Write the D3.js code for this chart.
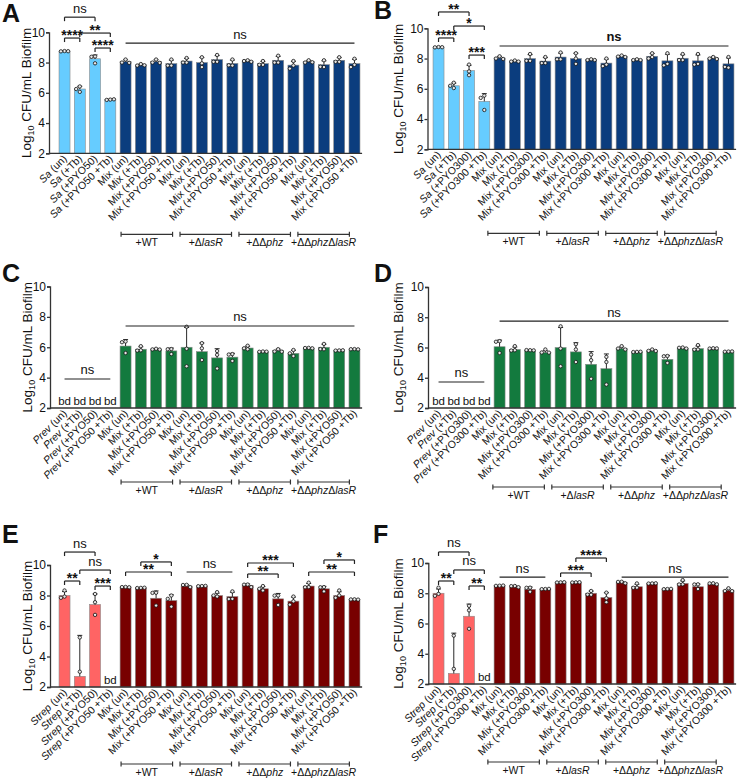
<!DOCTYPE html>
<html><head><meta charset="utf-8">
<script src="https://cdn.jsdelivr.net/npm/d3@7"></script>
<style>
body{margin:0;background:#fff}
svg{display:block}
text{font-family:"Liberation Sans",Arial,Helvetica,sans-serif;fill:#111}
</style>
</head><body>
<svg id="chart" width="742" height="778"></svg>
<script>
// ---------------- DATA ----------------
const condPYO50 = ["(un)", "(+Tb)", "(+PYO50)", "(+PYO50 +Tb)"];
const condPYO300 = ["(un)", "(+Tb)", "(+PYO300)", "(+PYO300 +Tb)"];
const strainGroups = ["+WT", "+ΔlasR", "+ΔΔphz", "+ΔΔphzΔlasR"];
const yTicks = [2, 4, 6, 8, 10];

const catsA = [...condPYO50.map(c => "Sa " + c), ...strainGroups.flatMap(() => condPYO50.map(c => "Mix " + c))];
const catsB = [...condPYO300.map(c => "Sa " + c), ...strainGroups.flatMap(() => condPYO300.map(c => "Mix " + c))];
const catsC = [...condPYO50.map(c => "Prev " + c), ...strainGroups.flatMap(() => condPYO50.map(c => "Mix " + c))];
const catsD = [...condPYO300.map(c => "Prev " + c), ...strainGroups.flatMap(() => condPYO300.map(c => "Mix " + c))];
const catsE = [...condPYO50.map(c => "Strep " + c), ...strainGroups.flatMap(() => condPYO50.map(c => "Mix " + c))];
const catsF = [...condPYO300.map(c => "Strep " + c), ...strainGroups.flatMap(() => condPYO300.map(c => "Mix " + c))];

// bar means (null = below detection, "bd")
const meansA = [8.75, 6.25, 8.25, 5.55, 8.06, 7.84, 8.06, 7.93, 8.1, 8.0, 8.2, 7.94, 8.1, 7.93, 8.15, 7.83, 8.06, 7.86, 8.15, 7.93];
const meansB = [8.75, 6.2, 7.2, 5.17, 8.04, 7.83, 8.0, 7.83, 8.1, 8.0, 7.92, 7.7, 8.15, 7.92, 8.15, 7.85, 8.02, 7.85, 8.03, 7.65];
const meansC = [null, null, null, null, 6.08, 5.87, 5.87, 5.76, 6.0, 5.71, 5.3, 5.35, 5.95, 5.7, 5.78, 5.6, 5.93, 6.0, 5.78, 5.87];
const meansD = [null, null, null, null, 6.05, 5.87, 5.8, 5.67, 6.0, 5.71, 4.89, 4.6, 5.93, 5.7, 5.78, 5.22, 5.93, 5.93, 5.87, 5.7];
const meansE = [8.0, 2.7, 7.41, null, 8.55, 8.5, 7.82, 7.67, 8.62, 8.62, 8.0, 7.93, 8.66, 8.44, 7.78, 7.63, 8.62, 8.44, 8.0, 7.74];
const meansF = [8.0, 2.7, 6.48, null, 8.5, 8.43, 8.26, 8.28, 8.72, 8.72, 8.0, 7.72, 8.72, 8.43, 8.65, 8.28, 8.65, 8.43, 8.59, 8.2];

// replicate points (values below the axis minimum are not drawn)
const pointsA = [[8.76, 8.74, 8.75], [6.42, 6.25, 6.06], [8.4, 8.38, 7.95], [5.55, 5.53, 5.57],
  [8.2, 8.0, 7.98], [7.9, 7.8, 7.82], [8.2, 8.0, 7.98], [8.2, 7.8, 7.8], [8.3, 8.0, 8.0], [8.35, 7.95, 7.7],
  [8.5, 8.05, 8.05], [8.2, 7.8, 7.82], [8.15, 8.1, 8.05], [8.1, 7.85, 7.85], [8.45, 8.0, 8.0], [8.1, 7.8, 7.6],
  [8.15, 8.0, 8.02], [8.15, 7.7, 7.72], [8.35, 8.05, 8.05], [8.25, 7.85, 7.7]];
const pointsB = [[8.76, 8.74, 8.75], [6.4, 6.2, 6.05], [7.6, 7.15, 6.9], [5.55, 5.4, 4.6],
  [8.15, 8.0, 7.97], [7.87, 7.8, 7.8], [8.3, 7.85, 7.85], [8.1, 7.7, 7.7], [8.4, 7.95, 7.95], [8.35, 8.0, 7.65],
  [7.95, 7.9, 7.9], [8.0, 7.6, 7.5], [8.2, 8.13, 8.1], [7.95, 7.9, 7.9], [8.35, 8.1, 8.0], [8.35, 7.65, 7.55],
  [8.3, 7.9, 7.9], [8.3, 7.65, 7.6], [8.1, 8.0, 7.97], [8.1, 7.4, 7.45]];
const pointsC = [[], [], [], [],
  [6.38, 6.33, 5.62], [6.07, 5.8, 5.78], [5.9, 5.86, 5.85], [5.88, 5.87, 5.55], [7.35, 5.9, 4.75], [6.27, 5.93, 5.16],
  [5.75, 5.5, 4.6], [5.55, 5.52, 5.1], [6.1, 5.93, 5.87], [5.72, 5.7, 5.71], [5.87, 5.72, 5.71], [5.82, 5.6, 5.42],
  [5.96, 5.95, 5.93], [6.22, 5.87, 5.88], [5.79, 5.78, 5.8], [5.88, 5.87, 5.86]];
const pointsD = [[], [], [], [],
  [6.42, 6.38, 5.64], [6.09, 5.82, 5.8], [5.82, 5.83, 5.81], [5.87, 5.67, 5.66], [7.4, 5.93, 4.76], [6.22, 5.87, 5.04],
  [5.53, 5.16, 3.93], [5.38, 5.04, 3.55], [6.09, 5.93, 5.87], [5.71, 5.7, 5.72], [5.87, 5.78, 5.77], [5.44, 5.42, 4.98],
  [6.0, 5.98, 5.93], [6.16, 5.87, 5.86], [5.95, 5.93, 5.94], [5.73, 5.72, 5.74]];
const pointsE = [[8.33, 7.93, 7.85], [5.25, 3.0, -0.1], [8.1, 7.56, 6.73], [],
  [8.56, 8.55, 8.54], [8.5, 8.49, 8.51], [8.18, 8.17, 7.34], [8.0, 7.78, 7.27], [8.7, 8.69, 8.55], [8.62, 8.61, 8.63],
  [8.22, 8.0, 7.93], [8.27, 7.78, 7.77], [8.72, 8.71, 8.55], [8.62, 8.44, 8.33], [8.0, 7.99, 7.38], [7.93, 7.62, 7.4],
  [8.84, 8.55, 8.54], [8.55, 8.54, 8.27], [8.33, 8.0, 7.85], [7.75, 7.74, 7.73]];
const pointsF = [[8.37, 7.96, 7.83], [5.2, 3.0, -0.1], [7.17, 6.87, 5.65], [],
  [8.5, 8.49, 8.51], [8.48, 8.47, 8.4], [8.37, 8.36, 8.1], [8.28, 8.27, 8.29], [8.72, 8.71, 8.73], [8.72, 8.71, 8.73],
  [8.15, 7.9, 7.91], [8.04, 7.67, 7.41], [8.76, 8.75, 8.66], [8.65, 8.37, 8.36], [8.65, 8.64, 8.66], [8.28, 8.27, 8.29],
  [8.87, 8.59, 8.58], [8.59, 8.58, 8.28], [8.66, 8.65, 8.59], [8.33, 8.15, 8.14]];

// significance annotations: [fromBar, toBar, level (log10 units), label, type]
const sigA = [[0, 2, 11.0, "ns", "b"], [0, 1, 9.62, "****", "b"], [1, 3, 9.95, "**", "b"], [2, 3, 8.96, "****", "b"], [4, 19, 9.29, "ns", "l"]];
const sigB = [[0, 2, 11.08, "**", "b"], [0, 1, 9.36, "****", "b"], [1, 3, 10.15, "*", "b"], [2, 3, 8.23, "***", "b"], [4, 19, 8.83, "ns", "lb"]];
const sigC = [[0, 3, 3.91, "ns", "l"], [4, 19, 7.4, "ns", "l"]];
const sigD = [[0, 3, 3.72, "ns", "l"], [4, 19, 7.75, "ns", "l"]];
const sigE = [[0, 2, 10.85, "ns", "b"], [0, 1, 8.95, "**", "b"], [1, 3, 9.67, "ns", "b"], [2, 3, 8.62, "***", "b"],
  [5, 7, 10.2, "*", "b"], [4, 7, 9.54, "**", "b"], [8, 11, 9.54, "ns", "l"],
  [12, 15, 10.13, "***", "b"], [12, 14, 9.41, "**", "b"], [17, 19, 10.33, "*", "b"], [16, 19, 9.54, "**", "b"]];
const sigF = [[0, 2, 10.73, "ns", "b"], [0, 1, 8.81, "**", "b"], [1, 3, 9.54, "ns", "b"], [2, 3, 8.48, "**", "b"],
  [4, 7, 9.07, "ns", "l"], [9, 11, 10.33, "****", "b"], [8, 10, 9.34, "***", "b"], [12, 19, 9.07, "ns", "l"]];

// ---------------- LAYOUT / STYLE ----------------
const COL = {
  sa: "#66ccff", saMix: "#0b3d7e",
  prev: "#137a3e", prevMix: "#137a3e",
  strep: "#ff6464", strepMix: "#780000"
};
const panels = [
  {id: "A", cats: catsA, means: meansA, pts: pointsA, sig: sigA, c1: COL.sa, c2: COL.saMix,
   lx: 2, ly: 22, ax: 49, r0: 56.9, yT: 32.3, yB: 153.3, tx: 31, gShift: -4.5, gY: 81},
  {id: "B", cats: catsB, means: meansB, pts: pointsB, sig: sigB, c1: COL.sa, c2: COL.saMix,
   lx: 374, ly: 19, ax: 427.5, r0: 430.9, yT: 28.3, yB: 149.3, tx: 403, gShift: -11.7, gY: 84},
  {id: "C", cats: catsC, means: meansC, pts: pointsC, sig: sigC, c1: COL.prev, c2: COL.prevMix,
   lx: 2, ly: 282, ax: 50, r0: 56.9, yT: 286.5, yB: 408, tx: 32, gShift: -4.5, gY: 74},
  {id: "D", cats: catsD, means: meansD, pts: pointsD, sig: sigD, c1: COL.prev, c2: COL.prevMix,
   lx: 374, ly: 282, ax: 428, r0: 430.9, yT: 287, yB: 408, tx: 403, gShift: -6.7, gY: 79},
  {id: "E", cats: catsE, means: meansE, pts: pointsE, sig: sigE, c1: COL.strep, c2: COL.strepMix,
   lx: 2, ly: 543, ax: 50, r0: 56.9, yT: 565, yB: 687, tx: 32, gShift: -4.5, gY: 77},
  {id: "F", cats: catsF, means: meansF, pts: pointsF, sig: sigF, c1: COL.strep, c2: COL.strepMix,
   lx: 373, ly: 543, ax: 428.3, r0: 430.9, yT: 563, yB: 684, tx: 403, gShift: -11.7, gY: 78}
];
const STEP = 15.26;

const svg = d3.select("#chart");

function drawPanel(p) {
  const g = svg.append("g");
  const n = p.cats.length;
  const x = d3.scaleBand().domain(d3.range(n)).range([p.r0, p.r0 + STEP * n]).paddingInner(0.28).paddingOuter(0.14);
  const y = d3.scaleLinear().domain([2, 10]).range([p.yB, p.yT]);
  const cx = i => x(i) + x.bandwidth() / 2;

  // panel letter
  g.append("text").attr("x", p.lx).attr("y", p.ly).attr("font-size", 25).attr("font-weight", "bold").text(p.id);

  // bars
  const bars = p.means.map((m, i) => ({i, m})).filter(d => d.m != null);
  g.selectAll("rect.bar").data(bars).join("rect").attr("class", "bar")
    .attr("x", d => x(d.i)).attr("width", x.bandwidth())
    .attr("y", d => y(d.m)).attr("height", d => y(2) - y(d.m))
    .attr("fill", d => d.i < 4 ? p.c1 : p.c2)
    .attr("stroke", "#8a8a8a").attr("stroke-width", 0.6);

  // error bars (mean + SD, upward)
  bars.forEach(d => {
    const sd = d3.deviation(p.pts[d.i]) || 0;
    const top = y(d.m + sd);
    g.append("line").attr("x1", cx(d.i)).attr("x2", cx(d.i)).attr("y1", y(d.m)).attr("y2", top)
      .attr("stroke", "#111").attr("stroke-width", 0.9);
    g.append("line").attr("x1", cx(d.i) - 2.5).attr("x2", cx(d.i) + 2.5).attr("y1", top).attr("y2", top)
      .attr("stroke", "#111").attr("stroke-width", 0.9);
  });

  // replicate points, spread horizontally when overlapping
  const offs = [0, -3.6, 3.6, -7, 7];
  p.pts.forEach((arr, i) => {
    const placed = [];
    arr.filter(v => v >= 2).forEach(v => {
      const py = y(v);
      let ox = 0;
      for (const o of offs) {
        if (placed.every(q => Math.hypot(q[0] - o, q[1] - py) >= 3.4)) { ox = o; break; }
      }
      placed.push([ox, py]);
    });
    g.selectAll(null).data(placed).join("circle")
      .attr("cx", d => cx(i) + d[0]).attr("cy", d => d[1]).attr("r", 1.7)
      .attr("fill", "#e8e8e8").attr("stroke", "#111").attr("stroke-width", 0.8);
  });

  // bd labels
  p.means.forEach((m, i) => {
    if (m == null) g.append("text").attr("x", cx(i)).attr("y", y(2) - 3).attr("text-anchor", "middle")
      .attr("font-size", 11.5).text("bd");
  });

  // y axis
  const yAx = g.append("g").attr("transform", `translate(${p.ax},0)`)
    .call(d3.axisLeft(y).tickValues(yTicks).tickSize(3).tickPadding(1).tickFormat(d3.format("d")));
  yAx.select(".domain").attr("stroke", "#333").attr("stroke-width", 1.3);
  yAx.selectAll(".tick line").attr("stroke", "#333").attr("stroke-width", 1.3);
  yAx.selectAll(".tick text").attr("font-size", 12).attr("fill", "#111")
    .attr("font-family", '"Liberation Sans",Arial,sans-serif');

  // x axis line
  g.append("line").attr("x1", p.ax).attr("x2", x.range()[1]).attr("y1", y(2)).attr("y2", y(2))
    .attr("stroke", "#333").attr("stroke-width", 1.3);

  // y title
  const t = g.append("text").attr("transform", `translate(${p.tx},${(p.yT + p.yB) / 2}) rotate(-90)`)
    .attr("text-anchor", "middle").attr("font-size", 13.5);
  t.append("tspan").text("Log");
  t.append("tspan").attr("font-size", 9).attr("dy", 3).text("10");
  t.append("tspan").attr("dy", -3).text(" CFU/mL Biofilm");

  // x tick labels
  p.cats.forEach((c, i) => {
    const lab = g.append("text").attr("transform", `translate(${cx(i) + 3},${y(2) + 6}) rotate(-45)`)
      .attr("text-anchor", "end").attr("font-size", 10.5);
    const sp = c.indexOf(" ");
    const first = c.slice(0, sp);
    lab.append("tspan").attr("font-style", first === "Mix" ? "normal" : "italic").text(first);
    lab.append("tspan").text(c.slice(sp));
  });

  // strain group brackets
  strainGroups.forEach((s, gi) => {
    const x1 = cx(4 + gi * 4) + p.gShift - 2.1 * gi, x2 = x1 + 51.5;
    const by = y(2) + p.gY;
    g.append("line").attr("x1", x1).attr("x2", x2).attr("y1", by).attr("y2", by).attr("stroke", "#333").attr("stroke-width", 1.2);
    [x1, x2].forEach(xx => g.append("line").attr("x1", xx).attr("x2", xx).attr("y1", by - 2.5).attr("y2", by + 2.5)
      .attr("stroke", "#333").attr("stroke-width", 1.2));
    const tl = g.append("text").attr("x", (x1 + x2) / 2).attr("y", by + 11.5).attr("text-anchor", "middle").attr("font-size", 10.5);
    s.split(/(lasR|phz)/).filter(d => d).forEach(part => {
      tl.append("tspan").attr("font-style", (part === "lasR" || part === "phz") ? "italic" : "normal").text(part);
    });
  });

  // significance
  p.sig.forEach(([a, b, lev, label, type]) => {
    const ly = y(lev), x1 = cx(a), x2 = cx(b);
    g.append("line").attr("x1", x1).attr("x2", x2).attr("y1", ly).attr("y2", ly).attr("stroke", "#222").attr("stroke-width", 1.2);
    if (type === "b") {
      [x1, x2].forEach(xx => g.append("line").attr("x1", xx).attr("x2", xx).attr("y1", ly).attr("y2", ly + 4)
        .attr("stroke", "#222").attr("stroke-width", 1.2));
    }
    const isStar = label.includes("*");
    g.append("text").attr("x", (x1 + x2) / 2).attr("y", isStar ? ly + 2 : ly - 4.5)
      .attr("text-anchor", "middle")
      .attr("font-size", isStar ? 14 : 13)
      .attr("font-weight", (isStar || type === "lb") ? "bold" : "normal")
      .text(label);
  });
}

panels.forEach(drawPanel);
</script>
</body></html>
